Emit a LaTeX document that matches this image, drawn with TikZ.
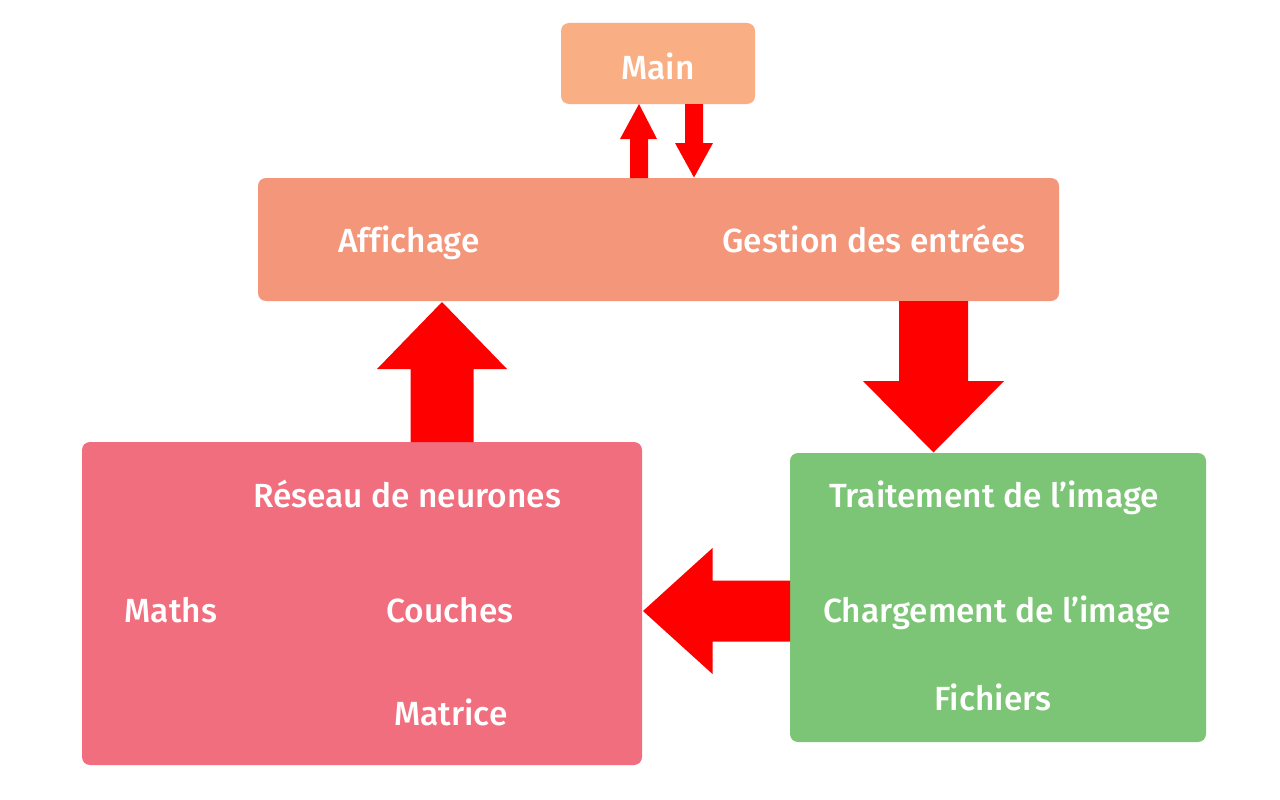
\documentclass[tikz,border=0pt]{standalone}
\usepackage{fontspec}
\setmainfont{Fira Sans}[UprightFont=* Medium,Ligatures=NoCommon]
\definecolor{cmain}{HTML}{F9AF83}
\definecolor{ctop}{HTML}{F4967A}
\definecolor{cpink}{HTML}{F16E7E}
\definecolor{cgreen}{HTML}{7DC576}
\definecolor{carrow}{HTML}{FF0000}
\begin{document}
\begin{tikzpicture}[x=1pt,y=-1pt,
  box/.style={rounded corners=8pt},
  lbl/.style={text=white,font=\fontsize{33.5}{40}\selectfont,inner sep=0pt,anchor=base},
  arr/.style={fill=carrow,draw=none}]
\useasboundingbox (0,0) rectangle (1280,800);
\fill[white] (0,0) rectangle (1280,800);
% boxes
\fill[cmain,box] (561,23) rectangle (755,104);
\fill[ctop,box] (258,178) rectangle (1059,301);
\fill[cpink,box] (82,442) rectangle (642,765);
\fill[cgreen,box] (790,453) rectangle (1206,742);
% labels
\node[lbl] (main) at (658,80) {Main};
\node[lbl] (aff) at (409,252) {Affichage};
\node[lbl] (ges) at (874,252) {Gestion des entrées};
\node[lbl] (res) at (407,507) {Réseau de neurones};
\node[lbl] (maths) at (171,622) {Maths};
\node[lbl] (couches) at (450,622) {Couches};
\node[lbl] (matrice) at (451,725) {Matrice};
\node[lbl] (trait) at (994,507) {Traitement de l’image};
\node[lbl] (charg) at (997,622) {Chargement de l’image};
\node[lbl] (fich) at (993,710) {Fichiers};
% arrows
\fill[arr] (630,178) -- (630,139) -- (620,139) -- (639,104) -- (657,139) -- (648,139) -- (648,178) -- cycle;
\fill[arr] (685,104) -- (685,143) -- (675,143) -- (694,177.5) -- (713,143) -- (703,143) -- (703,104) -- cycle;
\fill[arr] (410.5,442) -- (410.5,369) -- (377,369) -- (442,302) -- (507,369) -- (473.5,369) -- (473.5,442) -- cycle;
\fill[arr] (899,301) -- (899,381) -- (863,381) -- (933.5,452.5) -- (1004,381) -- (968,381) -- (968,301) -- cycle;
\fill[arr] (790,580.5) -- (712.5,580.5) -- (712.5,548) -- (643,611) -- (712.5,674) -- (712.5,641.5) -- (790,641.5) -- cycle;
\end{tikzpicture}
\end{document}
